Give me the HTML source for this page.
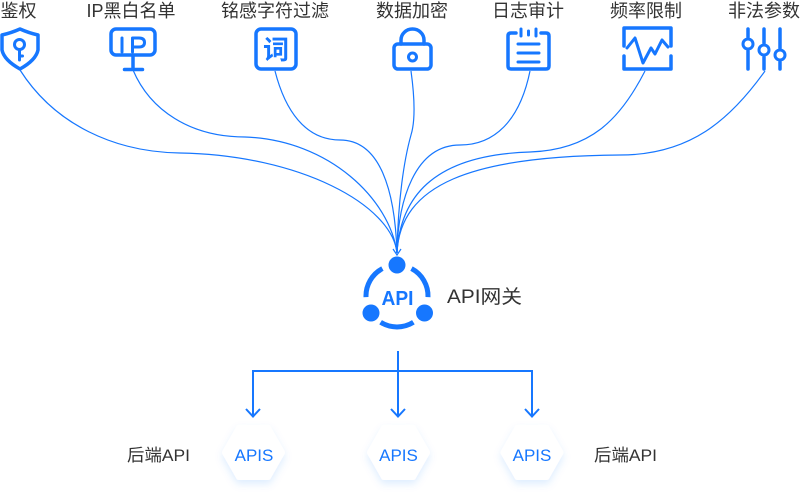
<!DOCTYPE html>
<html>
<head>
<meta charset="utf-8">
<style>
  html,body{margin:0;padding:0;background:#fff;}
  svg{display:block;}
  .lbl{font-family:"Liberation Sans","Noto Sans CJK SC",sans-serif;font-size:18px;fill:#333;}
  .blue{fill:#1677ff;}
</style>
</head>
<body>
<svg width="801" height="493" viewBox="0 0 801 493" xmlns="http://www.w3.org/2000/svg">
  <defs>
    <filter id="sh" x="-40%" y="-40%" width="180%" height="190%">
      <feDropShadow dx="0" dy="4" stdDeviation="4" flood-color="#1677ff" flood-opacity="0.13"/>
    </filter>
  </defs>
  <rect width="801" height="493" fill="#fff"/>

  <!-- top labels -->
  <g class="lbl" text-anchor="middle">
    <text x="18.5" y="17">鉴权</text>
    <text x="131" y="17">IP黑白名单</text>
    <text x="275" y="17">铭感字符过滤</text>
    <text x="412" y="17">数据加密</text>
    <text x="528" y="17">日志审计</text>
    <text x="646" y="17">频率限制</text>
    <text x="764" y="17">非法参数</text>
  </g>

  <!-- icons -->
  <g fill="none" stroke="#1677ff" stroke-width="3.5" stroke-linejoin="round" stroke-linecap="round">
    <!-- shield -->
    <path d="M2,35 Q11,33 20,29 Q29,33 38,35 V50 Q36,60 20,69 Q4,60 2,50 Z"/>
    <circle cx="19.5" cy="44.5" r="5" stroke-width="3"/>
    <path d="M19.5,50 V60 M19.5,56 H22.5" stroke-width="3"/>

    <!-- IP monitor -->
    <rect x="111" y="29" width="44" height="26" rx="5"/>
    <path d="M133,55 V69 M124.5,69.5 H142.5"/>
    <path d="M122,38 V52" stroke-width="3"/>
    <path d="M132.5,52 V38 H139 Q144.5,38 144.5,42.5 Q144.5,47 139,47 H132.5" stroke-width="3"/>

    <!-- 词 box -->
    <rect x="256" y="29" width="40" height="40" rx="5"/>

    <!-- lock -->
    <rect x="394" y="44" width="37" height="25" rx="4"/>
    <path d="M401,44 V40 A11.5,11 0 0 1 424,40 V44"/>
    <circle cx="412.5" cy="57" r="4" stroke-width="3"/>

    <!-- notepad -->
    <path d="M516,33 H511 Q508,33 508,36 V66 Q508,69 511,69 H546 Q549,69 549,66 V36 Q549,33 546,33 H541"/>
    <path d="M521,29 V36 M528.5,31 V35 M536,29 V36" stroke-width="3"/>
    <path d="M518,44 H539 M518,53 H539 M518,62 H539" stroke-width="3"/>

    <!-- frequency -->
    <path d="M624,46 V28 H671 V46"/>
    <path d="M624,56 V69 H671 V56"/>
    <path d="M627,48 L635,38 L643,63 L651,48 L655,54 L662,40 L668,47" stroke-width="3"/>

    <!-- sliders -->
    <path d="M748,29 V37 M748,51 V69"/>
    <circle cx="748" cy="44" r="5" stroke-width="3"/>
    <path d="M764,29 V43 M764,57 V69"/>
    <circle cx="764" cy="50" r="5" stroke-width="3"/>
    <path d="M780,29 V48 M780,62 V69"/>
    <circle cx="780" cy="55" r="5" stroke-width="3"/>
  </g>
  <text x="276" y="59" text-anchor="middle" style="font-family:'Noto Sans CJK SC',sans-serif;font-size:26px;font-weight:bold;fill:#1677ff;">词</text>

  <!-- curves -->
  <g fill="none" stroke="#1677ff" stroke-width="1.2">
    <path d="M20,70 C55,125 115,152 180,153 C300,155 392,205 397,253"/>
    <path d="M133,70 C150,110 190,137 245,137 C330,140 390,200 397,253"/>
    <path d="M275,71 C285,110 305,140 340,140 C380,140 395,190 397,253"/>
    <path d="M411,71 C415,100 415,122 411,135 C404,160 398,200 397,253"/>
    <path d="M530,71 C520,120 495,145 460,145 C415,145 398,200 397,253"/>
    <path d="M645,71 C620,120 590,150 530,152 C430,155 400,200 397,253"/>
    <path d="M765,71 C730,120 690,155 620,155 C470,156 400,185 397,253"/>
    <path d="M393,249 L397,255 L401,249"/>
  </g>

  <!-- API gateway icon -->
  <g fill="none" stroke="#1677ff" stroke-width="5">
    <path d="M411.5,268.6 A31,31 0 0 1 428,297.1"/>
    <path d="M413.4,322.3 A31,31 0 0 1 380.6,322.3"/>
    <path d="M366,297.1 A31,31 0 0 1 382.4,268.6"/>
  </g>
  <g class="blue">
    <circle cx="397" cy="265" r="8.5"/>
    <circle cx="371" cy="313" r="8.5"/>
    <circle cx="424.5" cy="313" r="8.5"/>
  </g>
  <text x="397.5" y="305" text-anchor="middle" textLength="32" lengthAdjust="spacingAndGlyphs" style="font-family:'Liberation Sans',sans-serif;font-size:20px;font-weight:bold;fill:#1677ff;">API</text>
  <text x="447" y="303" class="lbl" style="font-size:19px;" textLength="75" lengthAdjust="spacingAndGlyphs">API网关</text>

  <!-- bottom connectors -->
  <g fill="none" stroke="#1677ff" stroke-width="2">
    <path d="M398,351 V416"/>
    <path d="M253,416 V371 H532 V416"/>
    <path d="M246,409 L253,416.5 L260,409"/>
    <path d="M391,409 L398,416.5 L405,409"/>
    <path d="M525,409 L532,416.5 L539,409"/>
  </g>

  <!-- hexagons -->
  <g fill="#fff" stroke="#fff" stroke-width="6" stroke-linejoin="round" filter="url(#sh)">
    <polygon points="225,452.5 239,428 268,428 282,452.5 268,477 239,477"/>
    <polygon points="370,452.5 384,428 413,428 427,452.5 413,477 384,477"/>
    <polygon points="503.5,452.5 517.5,428 546.5,428 560.5,452.5 546.5,477 517.5,477"/>
  </g>
  <g text-anchor="middle" style="font-family:'Liberation Sans',sans-serif;font-size:17px;fill:#1677ff;">
    <text x="254" y="461">APIS</text>
    <text x="398.5" y="461">APIS</text>
    <text x="532" y="461">APIS</text>
  </g>

  <text x="127" y="461" class="lbl" style="font-size:17px;" textLength="63" lengthAdjust="spacingAndGlyphs">后端API</text>
  <text x="594" y="461" class="lbl" style="font-size:17px;" textLength="63" lengthAdjust="spacingAndGlyphs">后端API</text>
</svg>
</body>
</html>
